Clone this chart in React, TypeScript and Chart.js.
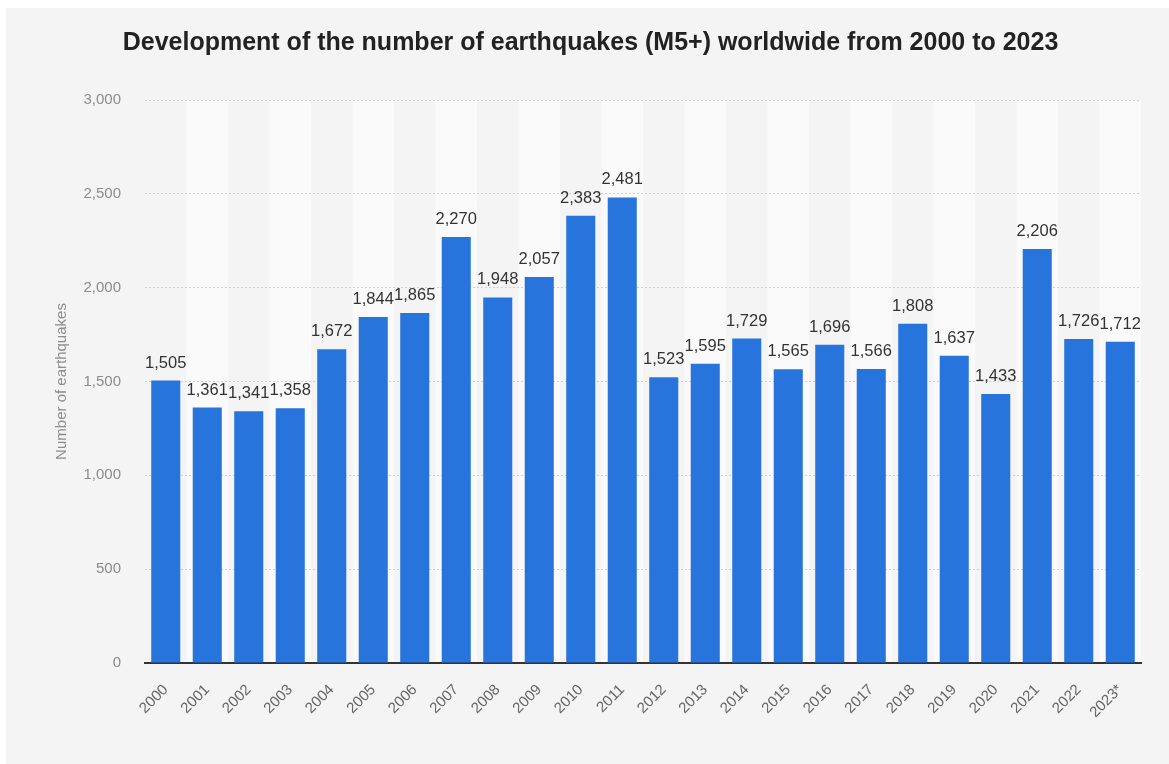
import React, { useEffect, useRef } from "react";
import { Chart, registerables } from "chart.js";

Chart.register(...registerables);

const titleText = "Development of the number of earthquakes (M5+) worldwide from 2000 to 2023";
const yAxisTitle = "Number of earthquakes";
const years = [
  "2000", "2001", "2002", "2003", "2004", "2005", "2006", "2007", "2008", "2009", "2010", "2011",
  "2012", "2013", "2014", "2015", "2016", "2017", "2018", "2019", "2020", "2021", "2022", "2023*",
];
const earthquakes = [
  1505, 1361, 1341, 1358, 1672, 1844, 1865, 2270, 1948, 2057, 2383, 2481,
  1523, 1595, 1729, 1565, 1696, 1566, 1808, 1637, 1433, 2206, 1726, 1712,
];
const yTicks = [0, 500, 1000, 1500, 2000, 2500, 3000];

const FONT = "'Liberation Sans', Arial, Helvetica, sans-serif";
const BAR_COLOR = "#2775dc";
const CARD_BG = "#f4f4f4";
const STRIPE_BG = "#fafafa";

const fmt = (v: number) => v.toLocaleString("en-US");

const stripesPlugin = {
  id: "stripes",
  beforeDraw(chart: any) {
    const { ctx, chartArea, scales } = chart;
    const x = scales.x;
    const n = chart.data.labels.length;
    const w = (chartArea.right - chartArea.left) / n;
    ctx.save();
    ctx.fillStyle = STRIPE_BG;
    for (let i = 0; i < n; i++) {
      if (i % 2 === 1) {
        const cx = x.getPixelForValue(i);
        ctx.fillRect(cx - w / 2, chartArea.top, w, chartArea.bottom - chartArea.top);
      }
    }
    ctx.restore();
  },
};

const titlePlugin = {
  id: "centeredTitle",
  afterDraw(chart: any) {
    const { ctx, width } = chart;
    ctx.save();
    ctx.font = `bold 25px ${FONT}`;
    ctx.fillStyle = "#222222";
    ctx.textAlign = "center";
    ctx.textBaseline = "middle";
    ctx.fillText(titleText, width / 2 + 3, 35);
    ctx.restore();
  },
};

const valueLabelsPlugin = {
  id: "valueLabels",
  afterDatasetsDraw(chart: any) {
    const { ctx } = chart;
    const meta = chart.getDatasetMeta(0);
    const data = chart.data.datasets[0].data as number[];
    ctx.save();
    ctx.font = `16.5px ${FONT}`;
    ctx.fillStyle = "#333333";
    ctx.textAlign = "center";
    ctx.textBaseline = "alphabetic";
    meta.data.forEach((bar: any, i: number) => {
      ctx.fillText(fmt(data[i]), bar.x, bar.y - 13);
    });
    ctx.restore();
  },
};

export default function App() {
  const canvasRef = useRef<HTMLCanvasElement | null>(null);

  useEffect(() => {
    if (!canvasRef.current) return;
    const chart = new Chart(canvasRef.current, {
      type: "bar",
      data: {
        labels: years,
        datasets: [
          {
            data: earthquakes,
            backgroundColor: BAR_COLOR,
            borderWidth: 0,
            barPercentage: 0.7,
            categoryPercentage: 1,
          },
        ],
      },
      options: {
        animation: false,
        responsive: false,
        maintainAspectRatio: false,
        layout: { padding: { left: 0, right: 28, top: 92, bottom: 0 } },
        plugins: {
          legend: { display: false },
          tooltip: { enabled: false },
          title: { display: false },
        },
        scales: {
          x: {
            grid: { display: false, drawTicks: false },
            border: { display: true, color: "#333333", width: 2 },
            ticks: {
              autoSkip: false,
              minRotation: 45,
              maxRotation: 45,
              padding: 18,
              color: "#666666",
              font: { family: FONT, size: 15 },
            },
            afterFit(scale: any) {
              scale.height = 101;
            },
          },
          y: {
            min: 0,
            max: 3000,
            afterBuildTicks(scale: any) {
              scale.ticks = yTicks.map((v) => ({ value: v }));
            },
            grid: {
              drawTicks: false,
              color: (c: any) => (c.tick && c.tick.value === 0 ? "rgba(0,0,0,0)" : "#d0d0d0"),
              lineWidth: 1,
            },
            border: { display: false, dash: [2, 2] },
            ticks: {
              padding: 24,
              color: "#8c8c8c",
              font: { family: FONT, size: 15 },
              callback: (v: any) => fmt(Number(v)),
            },
            title: {
              display: true,
              text: yAxisTitle,
              color: "#8c8c8c",
              font: { family: FONT, size: 15 },
              padding: { top: 47, bottom: 0 },
            },
            afterFit(scale: any) {
              scale.width = 139;
            },
          },
        },
      },
      plugins: [stripesPlugin, valueLabelsPlugin, titlePlugin],
    });
    return () => chart.destroy();
  }, []);

  return (
    <div
      style={{
        position: "fixed",
        left: 6,
        top: 8,
        width: 1163,
        height: 756,
        background: CARD_BG,
      }}
    >
      <canvas ref={canvasRef} width={1163} height={756} style={{ display: "block" }} />
    </div>
  );
}
